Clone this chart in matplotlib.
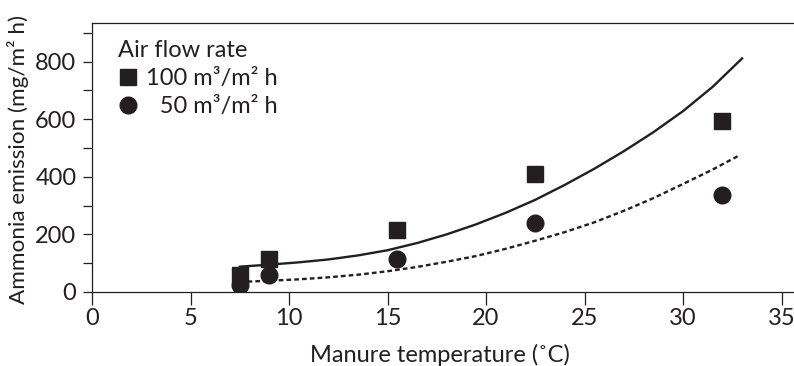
import matplotlib
matplotlib.use("Agg")
import matplotlib.pyplot as plt
from matplotlib.lines import Line2D

plt.rcParams['font.family'] = ['Lato', 'DejaVu Sans']

# Measured data points
temp = [7.5, 9.0, 15.5, 22.5, 32.0]
emis_100 = [60, 115, 215, 410, 595]
emis_50 = [25, 60, 115, 240, 338]

# Trend curves
curve_x_100 = [7.5, 9, 10.5, 12, 13.5, 15, 16.5, 18, 19.5, 21, 22.5, 24, 25.5, 27, 28.5, 30, 31.5, 33]
curve_y_100 = [88, 95, 103, 113, 127, 145, 170, 200, 235, 275, 320, 372, 428, 489, 555, 628, 712, 811]
curve_x_50 = [7.5, 9, 10.5, 12, 13.5, 15, 16.5, 18, 19.5, 21, 22.5, 24, 25.5, 27, 28.5, 30, 31.5, 32.9]
curve_y_50 = [35, 39, 44, 51, 60, 72, 87, 105, 125, 150, 178, 208, 242, 282, 326, 375, 425, 476]

xticks = [0, 5, 10, 15, 20, 25, 30, 35]
yticks = [0, 200, 400, 600, 800]
yminor = [100, 300, 500, 700, 900]

ink = '#231f20'
W, H = 794, 366
fig = plt.figure(figsize=(W / 100, H / 100), dpi=100)
ax = fig.add_axes([92 / W, 1 - 292 / H, 1 - 92 / W, (292 - 23) / H])

ax.plot(curve_x_100, curve_y_100, color=ink, lw=1.7, solid_joinstyle='round')
ax.plot(curve_x_50, curve_y_50, color=ink, lw=1.7, linestyle=(0, (2.0, 1.3)))
ax.plot(temp, emis_100, 's', color=ink, ms=12, mec=ink)
ax.plot(temp, emis_50, 'o', color=ink, ms=12, mec=ink)

ax.set_xlim(0, (W - 92) / 19.7)
ax.set_ylim(0, 934)
ax.set_xticks(xticks)
ax.set_yticks(yticks)
ax.set_yticks(yminor, minor=True)
ax.spines['right'].set_visible(False)
for s in ['left', 'bottom', 'top']:
    ax.spines[s].set_linewidth(0.9)
    ax.spines[s].set_color(ink)
ax.tick_params(axis='x', length=9.2, width=0.9, pad=2.5, labelsize=17, colors=ink)
ax.tick_params(axis='y', which='both', length=6.7, width=0.9, pad=4.5, labelsize=17, colors=ink)
ax.tick_params(axis='y', which='minor', length=6.7)

fig.text(440 / W, 1 - 355 / H, 'Manure temperature (˚C)', ha='center', va='center',
         fontsize=17, color=ink)
fig.text(18 / W, 1 - 160 / H, 'Ammonia emission (mg/m² h)', ha='center', va='center',
         rotation=90, fontsize=16.2, color=ink)

handles = [Line2D([], [], marker='s', ms=12, color=ink, lw=0),
           Line2D([], [], marker='o', ms=12, color=ink, lw=0)]
leg = ax.legend(handles, ['100 m³/m² h', '\u200750 m³/m² h'], title='Air flow rate',
                loc='upper left', bbox_to_anchor=(0.031, 0.955), frameon=False,
                fontsize=17, title_fontsize=17, alignment='left',
                handlelength=0.8, handletextpad=0.35, labelspacing=0.3,
                borderpad=0.2, borderaxespad=0.0)
for t in leg.get_texts():
    t.set_color(ink)
leg.get_title().set_color(ink)

fig.savefig('out.png', dpi=100)
